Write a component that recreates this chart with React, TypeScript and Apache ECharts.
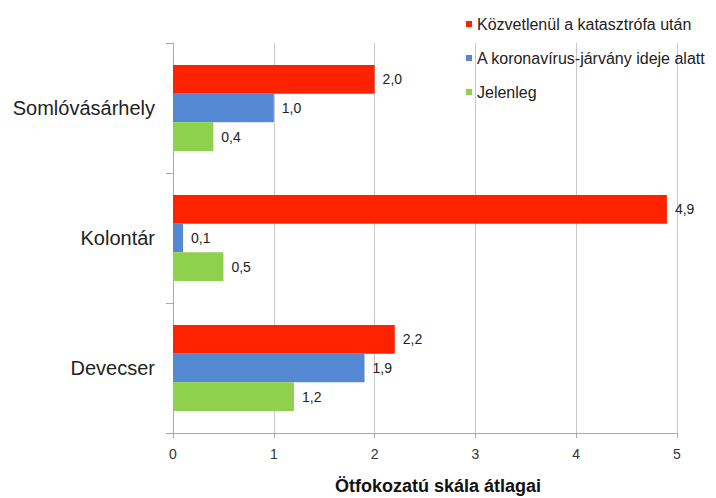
import React, { useEffect, useRef } from "react";
import * as echarts from "echarts";

const categories = ["Somlóvásárhely", "Kolontár", "Devecser"];
const seriesNames = [
  "Közvetlenül a katasztrófa után",
  "A koronavírus-járvány ideje alatt",
  "Jelenleg",
];
const immediate = [2.0, 4.9, 2.2];
const covid = [1.0, 0.1, 1.9];
const current = [0.4, 0.5, 1.2];
const colors = ["#ff2200", "#5588d3", "#8fd04c"];
const xTicks = [0, 1, 2, 3, 4, 5];

export default function App() {
  const ref = useRef<HTMLDivElement>(null);
  useEffect(() => {
    document.body.style.margin = "0";
    const chart = echarts.init(ref.current!, undefined, { renderer: "svg" });
    const font = "Liberation Sans, Arial, sans-serif";
    const dataSets = [immediate, covid, current];
    chart.setOption({
      animation: false,
      textStyle: { fontFamily: font },
      legend: {
        orient: "vertical",
        left: 461,
        top: 11,
        itemWidth: 6,
        itemHeight: 6,
        itemGap: 18,
        icon: "rect",
        textStyle: { fontSize: 16, color: "#222", fontFamily: font },
        data: seriesNames,
      },
      grid: {
        left: 173,
        right: 39,
        top: 43,
        bottom: 65,
        outerBoundsMode: "none",
        containLabel: false,
      },
      xAxis: {
        type: "value",
        min: xTicks[0],
        max: xTicks[xTicks.length - 1],
        interval: 1,
        name: "Ötfokozatú skála átlagai",
        nameLocation: "middle",
        nameGap: 44,
        nameTextStyle: {
          fontSize: 18,
          fontWeight: "bold",
          color: "#111",
          padding: [0, 0, 0, 26],
        },
        axisLine: { show: true, lineStyle: { color: "#aaa" } },
        axisTick: { show: true, length: 5, lineStyle: { color: "#aaa" } },
        axisLabel: { fontSize: 14, color: "#333", margin: 14 },
        splitLine: { show: true, lineStyle: { color: "#c8c8c8", width: 1 } },
      },
      yAxis: {
        type: "category",
        data: categories,
        inverse: true,
        axisLine: { show: true, lineStyle: { color: "#aaa" } },
        axisTick: { show: true, length: 7, lineStyle: { color: "#aaa" } },
        axisLabel: { fontSize: 20, color: "#222", margin: 18 },
      },
      series: seriesNames.map((name, i) => ({
        name,
        type: "bar",
        data: dataSets[i],
        barGap: "0%",
        barCategoryGap: "34%",
        itemStyle: { color: colors[i] },
        label: {
          show: true,
          position: "right",
          distance: 8,
          fontSize: 14,
          color: "#222",
          formatter: (p: any) => p.value.toFixed(1).replace(".", ","),
        },
      })),
    });
    return () => chart.dispose();
  }, []);
  return <div ref={ref} style={{ width: 716, height: 498 }} />;
}
